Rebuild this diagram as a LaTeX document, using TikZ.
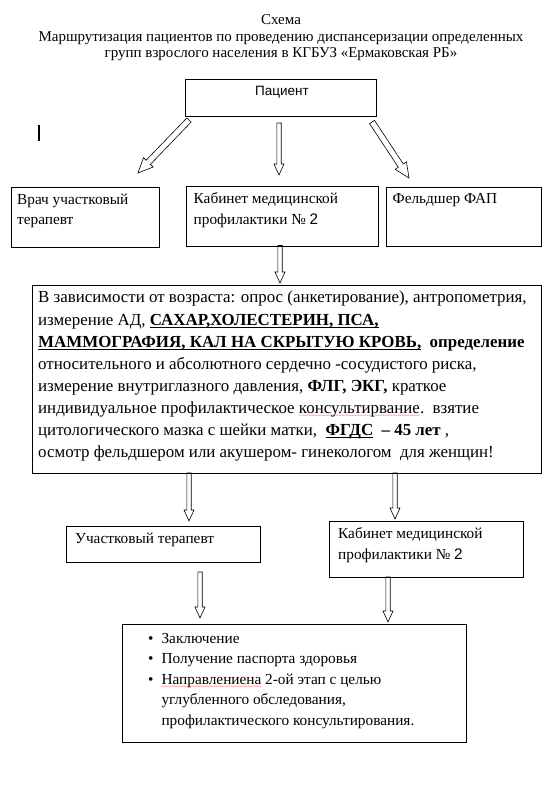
\documentclass[tikz,border=0pt]{standalone}
\usepackage{fontspec}
\setmainfont{Liberation Serif}
\setsansfont{Liberation Sans}
\usepackage{tikz}
\usetikzlibrary{calc,positioning}
% underline and spell-check wave
\newsavebox{\ulsave}
\newcommand{\ulthick}[1]{\sbox{\ulsave}{#1}\rlap{\rule[-2.8pt]{\wd\ulsave}{1pt}}\usebox{\ulsave}}
\newcommand{\spellwave}[1]{\sbox{\ulsave}{#1}\rlap{\raisebox{-3.8pt}{\color{red}\hbox to \wd\ulsave{\xleaders\hbox{\fontsize{5.5}{5.5}\selectfont\char"007E}\hfil}}}\usebox{\ulsave}}
% hollow block arrow: [size factor]{from}{to}
\newcommand{\hollowarrow}[3][1]{%
  \coordinate (ha-h) at ($(#3)!#1*11pt!(#2)$);
  \draw[arrowline] ($(#2)!#1*2.2pt!90:(#3)$) -- ($(ha-h)!#1*2.2pt!90:(#3)$)
    -- ($(ha-h)!#1*5pt!90:(#3)$) -- (#3) -- ($(ha-h)!#1*5pt!-90:(#3)$)
    -- ($(ha-h)!#1*2.2pt!-90:(#3)$) -- ($(#2)!#1*2.2pt!-90:(#3)$) -- cycle;}

\begin{document}
\begin{tikzpicture}[x=1pt, y=-1pt,
    box/.style={draw, line width=1pt, inner sep=0pt, anchor=north west},
    txt/.style={inner sep=0pt, anchor=north west, align=left, font=\fontsize{15.3}{20.6}\selectfont},
    bigtxt/.style={inner sep=0pt, anchor=north west, align=left, font=\fontsize{16.9}{22.1}\selectfont},
    arrowline/.style={line width=0.6pt, line join=miter}]
  \useasboundingbox (0,0) rectangle (557,786);

  % title
  \node[anchor=north, align=center, inner sep=0pt, font=\fontsize{15}{16.5}\selectfont] (title) at (281,14.5)
    {Схема\\Маршрутизация пациентов по проведению диспансеризации определенных\\групп взрослого населения в КГБУЗ «Ермаковская РБ»};

  % boxes
  \node[box, minimum width=191pt, minimum height=37pt] (pat) at (185,79) {};
  \node[box, minimum width=148pt, minimum height=59pt] (vrach) at (11,187.5) {};
  \node[box, minimum width=192pt, minimum height=59pt] (kab) at (186,186.5) {};
  \node[box, minimum width=155pt, minimum height=58.5pt] (fap) at (386,187.5) {};
  \node[box, minimum width=509pt, minimum height=188pt] (exam) at (32,285) {};
  \node[box, minimum width=194pt, minimum height=36pt] (uch) at (66,526) {};
  \node[box, minimum width=194pt, minimum height=56pt] (kabtwo) at (329,521) {};
  \node[box, minimum width=344pt, minimum height=118pt] (result) at (122,624) {};

  % texts
  \node[inner sep=0pt, font=\sffamily\fontsize{13.5}{15}\selectfont] (pattxt) at (282,92.5) {Пациент};
  \node[txt, below right=6pt and 6pt of vrach.north west] (vrachtxt) {Врач участковый\\терапевт};
  \node[txt, below right=6pt and 7.5pt of kab.north west] (kabtxt) {Кабинет медицинской\\профилактики № {\sffamily 2}};
  \node[txt, below right=6pt and 6.5pt of fap.north west] (faptxt) {Фельдшер ФАП};
  \node[bigtxt, below right=6pt and 6pt of exam.north west] (examtxt)
    {В зависимости от возраста: опрос (анкетирование), антропометрия,\\
     измерение АД, \ulthick{\textbf{САХАР,ХОЛЕСТЕРИН, ПСА,}}\\
     \ulthick{\textbf{МАММОГРАФИЯ, КАЛ НА СКРЫТУЮ КРОВЬ,}}\ \ \textbf{определение}\\
     относительного и абсолютного сердечно -сосудистого риска,\\
     измерение внутриглазного давления, \textbf{ФЛГ, ЭКГ,}\ краткое\\
     индивидуальное профилактическое \spellwave{консультирвание}.\ \ взятие\\
     цитологического мазка с шейки матки,\ \ \ulthick{\textbf{ФГДС}}\ \ \textbf{– 45 лет} ,\\
     осмотр фельдшером или акушером- гинекологом\ \ для женщин!};
  \node[txt, below right=6.5pt and 9pt of uch.north west] (uchtxt) {Участковый терапевт};
  \node[txt, below right=6.5pt and 9pt of kabtwo.north west] (kabtwotxt) {Кабинет медицинской\\профилактики № {\sffamily 2}};
  \node[txt, below right=4.5pt and 26pt of result.north west] (resulttxt)
    {\begin{tabular}{@{}l@{\hspace{8pt}}l@{}}
     \textbullet & Заключение\\
     \textbullet & Получение паспорта здоровья\\
     \textbullet & \spellwave{Направлениена} 2-ой этап с целью\\
                 & углубленного обследования,\\
                 & профилактического консультирования.
     \end{tabular}};

  % stray mark
  \draw[line width=2pt] (39,125) -- (39,141);

  % arrows
  \coordinate (a1s) at (189,120); \coordinate (a1e) at (138,173);
  \coordinate (a2s) at (279,123); \coordinate (a2e) at (279,175);
  \coordinate (a3s) at (372,122); \coordinate (a3e) at (409,178);
  \coordinate (a4s) at (280,245.5); \coordinate (a4e) at (280,283);
  \coordinate (a5s) at (189,473); \coordinate (a5e) at (189,521);
  \coordinate (a6s) at (395,473); \coordinate (a6e) at (395,519);
  \coordinate (a7s) at (200,572); \coordinate (a7e) at (200,618);
  \coordinate (a8s) at (388,577); \coordinate (a8e) at (388,622);
  \hollowarrow[1.35]{a1s}{a1e}
  \hollowarrow{a2s}{a2e}
  \hollowarrow[1.35]{a3s}{a3e}
  \hollowarrow{a4s}{a4e}
  \hollowarrow{a5s}{a5e}
  \hollowarrow{a6s}{a6e}
  \hollowarrow{a7s}{a7e}
  \hollowarrow{a8s}{a8e}
\end{tikzpicture}
\end{document}
